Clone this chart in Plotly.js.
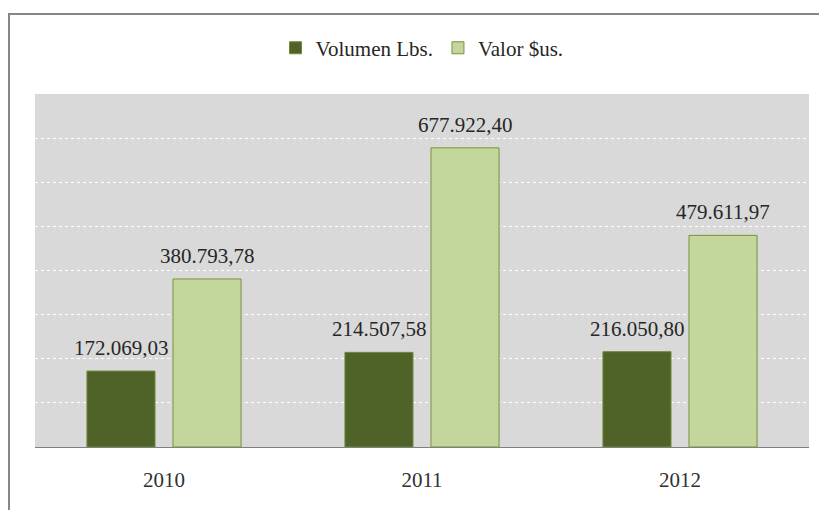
<!DOCTYPE html>
<html><head><meta charset="utf-8">
<script src="https://cdn.plot.ly/plotly-3.0.1.min.js"></script>
<style>
html,body{margin:0;padding:0;background:#fff;overflow:hidden;}
#frame{position:absolute;left:8px;top:13px;width:900px;height:600px;border-left:2px solid #868686;border-top:2px solid #868686;}
#chart{position:absolute;left:0;top:0;width:819px;height:510px;}
</style>
</head><body>
<div id="chart"></div>
<div id="frame"></div>
<script>
const years = ['2010', '2011', '2012'];
const volumenLbs = [172069.03, 214507.58, 216050.80];
const valorSus = [380793.78, 677922.40, 479611.97];
const seriesNames = ['Volumen Lbs.', 'Valor $us.'];

const serif = 'Liberation Serif, Times New Roman, serif';
const labelFont = {family: serif, size: 21, color: '#262626'};

function fmt(v) {
  const parts = v.toFixed(2).split('.');
  return parts[0].replace(/\B(?=(\d{3})+(?!\d))/g, '.') + ',' + parts[1];
}

const traces = [
  {type: 'bar', name: seriesNames[0], x: years, y: volumenLbs,
   marker: {color: '#4f6228', line: {color: '#6f8a3a', width: 1}}, hoverinfo: 'none'},
  {type: 'bar', name: seriesNames[1], x: years, y: valorSus,
   marker: {color: '#c3d69b', line: {color: '#77933c', width: 1}}, hoverinfo: 'none'}
];

const annotations = [];
[volumenLbs, valorSus].forEach((series, si) => {
  series.forEach((v, i) => {
    annotations.push({x: i, y: v, xref: 'x', yref: 'y', text: fmt(v),
      showarrow: false, xanchor: 'center', yanchor: 'bottom',
      xshift: si === 0 ? -43 : 43, yshift: 9, font: labelFont});
  });
});

const layout = {
  width: 819, height: 510,
  margin: {l: 35, r: 10, t: 94, b: 63},
  paper_bgcolor: '#ffffff', plot_bgcolor: '#d9d9d9',
  bargap: 0.333, bargroupgap: 0.209,
  showlegend: true,
  legend: {orientation: 'h', x: 0.5, xanchor: 'center', y: 1.13, yanchor: 'middle',
           font: {family: serif, size: 21, color: '#262626'}, itemwidth: 30,
           bgcolor: 'rgba(0,0,0,0)'},
  xaxis: {type: 'category', range: [-0.5, years.length - 0.5], autorange: false,
          showgrid: false, showline: true, linecolor: '#808080', linewidth: 1,
          ticks: '', tickfont: {family: serif, size: 21, color: '#303030'}, ticklabelstandoff: 14},
  yaxis: {range: [0, 800000], dtick: 100000, showticklabels: false, showgrid: true,
          gridcolor: '#ffffff', griddash: 'dot', gridwidth: 1, zeroline: false, showline: false, ticks: ''},
  annotations: annotations,
  font: {family: serif}
};

Plotly.newPlot('chart', traces, layout, {staticPlot: true, displayModeBar: false});
</script>
</body></html>
